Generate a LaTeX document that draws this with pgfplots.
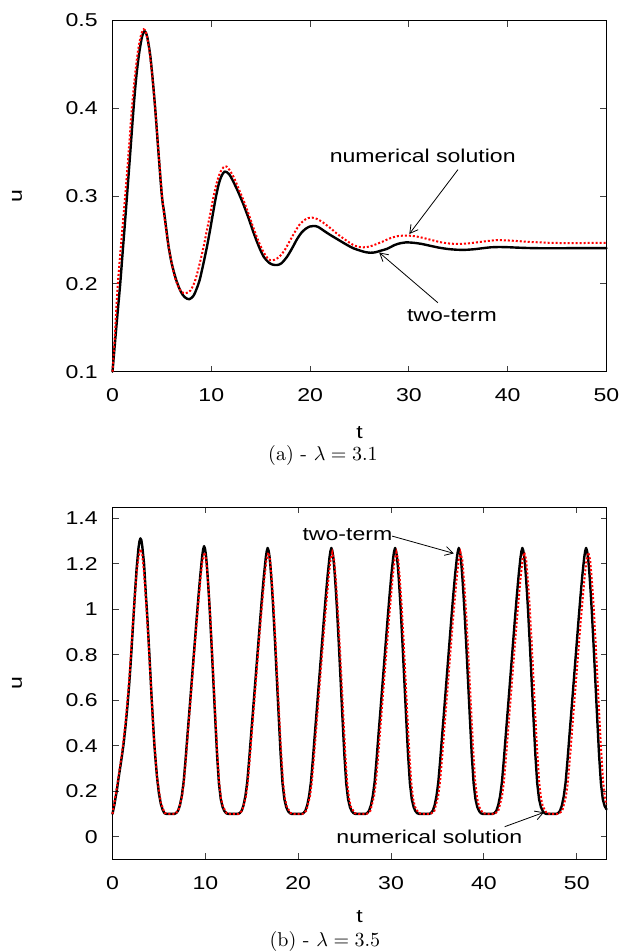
\documentclass[border=0pt]{standalone}
\usepackage{pgfplots}
\pgfplotsset{compat=1.18}
\usepackage{pgfplotstable}
\usepackage{fontspec}
\usetikzlibrary{arrows.meta}
\newfontfamily\lsans[FakeStretch=1.24]{Liberation Sans}
\newcommand\sfs{\lsans\fontsize{9.3}{11}\selectfont}

\pgfplotstableread[row sep=\\]{t u\\
0 0.100\\ 0.25 0.133\\ 0.5 0.165\\ 0.78 0.200\\ 1.0 0.232\\ 1.25 0.268\\ 1.5 0.305\\ 1.8 0.350\\ 2.13 0.400\\ 2.4 0.435\\ 2.7 0.463\\ 3.0 0.482\\ 3.24 0.488\\ 3.5 0.482\\ 3.8 0.462\\ 4.05 0.435\\ 4.32 0.400\\ 4.65 0.350\\ 5.0 0.300\\ 5.24 0.2804\\ 5.45 0.262\\ 5.68 0.2424\\ 6.0 0.223\\ 6.45 0.2044\\ 6.9 0.1915\\ 7.3 0.1850\\ 7.77 0.1825\\ 8.2 0.1865\\ 8.5 0.194\\ 8.82 0.2044\\ 9.2 0.223\\ 9.56 0.2424\\ 9.87 0.261\\ 10.17 0.2804\\ 10.45 0.298\\ 10.74 0.313\\ 11.0 0.322\\ 11.35 0.328\\ 11.8 0.325\\ 12.25 0.316\\ 12.75 0.304\\ 13.27 0.290\\ 13.8 0.274\\ 14.29 0.258\\ 14.8 0.243\\ 15.3 0.231\\ 15.8 0.2245\\ 16.2 0.222\\ 16.66 0.2215\\ 17.1 0.2235\\ 17.67 0.231\\ 18.2 0.241\\ 18.68 0.251\\ 19.1 0.258\\ 19.52 0.2625\\ 19.95 0.2653\\ 20.37 0.266\\ 20.8 0.265\\ 21.4 0.2605\\ 22.05 0.2557\\ 22.9 0.250\\ 23.75 0.2443\\ 24.4 0.2405\\ 25.1 0.2378\\ 25.6 0.2362\\ 26.1 0.2355\\ 26.6 0.236\\ 27.2 0.238\\ 27.8 0.240\\ 28.6 0.2445\\ 29.2 0.2465\\ 29.7 0.2473\\ 30.5 0.2468\\ 31.3 0.2455\\ 32.2 0.2433\\ 33.1 0.2412\\ 34.0 0.2397\\ 34.9 0.2389\\ 35.7 0.2388\\ 36.6 0.2395\\ 37.5 0.2407\\ 38.3 0.2417\\ 39.1 0.242\\ 40.0 0.2418\\ 41.0 0.2413\\ 42.0 0.2409\\ 43.5 0.2406\\ 45.0 0.2406\\ 46.5 0.2407\\ 48.0 0.2407\\ 50.0 0.2407\\
}\topblack

\pgfplotstableread[row sep=\\]{t u\\
0 0.100\\ 0.25 0.145\\ 0.54 0.200\\ 0.9 0.250\\ 1.28 0.300\\ 1.6 0.345\\ 1.96 0.400\\ 2.3 0.440\\ 2.6 0.467\\ 2.9 0.484\\ 3.15 0.490\\ 3.4 0.486\\ 3.7 0.468\\ 4.0 0.440\\ 4.3 0.402\\ 4.65 0.352\\ 5.0 0.302\\ 5.3 0.272\\ 5.6 0.248\\ 5.95 0.226\\ 6.3 0.208\\ 6.7 0.196\\ 7.0 0.191\\ 7.37 0.1893\\ 7.9 0.1925\\ 8.38 0.2044\\ 8.8 0.222\\ 9.22 0.2424\\ 9.55 0.261\\ 9.9 0.2804\\ 10.2 0.298\\ 10.5 0.313\\ 10.8 0.324\\ 11.1 0.331\\ 11.4 0.334\\ 11.7 0.332\\ 12.25 0.322\\ 12.75 0.309\\ 13.27 0.295\\ 13.8 0.279\\ 14.29 0.263\\ 14.8 0.248\\ 15.3 0.236\\ 15.65 0.230\\ 15.98 0.227\\ 16.4 0.2275\\ 16.9 0.231\\ 17.4 0.238\\ 17.9 0.248\\ 18.4 0.258\\ 18.9 0.267\\ 19.4 0.2725\\ 19.8 0.275\\ 20.2 0.2755\\ 20.7 0.274\\ 21.3 0.270\\ 22.0 0.264\\ 22.8 0.2565\\ 23.6 0.250\\ 24.3 0.2448\\ 24.9 0.2422\\ 25.43 0.2417\\ 26.0 0.2425\\ 26.6 0.2448\\ 27.3 0.248\\ 28.1 0.252\\ 28.9 0.2545\\ 29.86 0.255\\ 30.6 0.2543\\ 31.4 0.2525\\ 32.3 0.250\\ 33.2 0.2475\\ 34.1 0.246\\ 35.0 0.2455\\ 35.9 0.246\\ 36.8 0.2472\\ 37.7 0.2485\\ 38.5 0.2495\\ 39.1 0.2498\\ 40.0 0.2495\\ 41.0 0.2488\\ 42.0 0.248\\ 43.0 0.2474\\ 44.0 0.2469\\ 45.0 0.2466\\ 46.5 0.2465\\ 48.0 0.2466\\ 50.0 0.2467\\
}\topred

\pgfplotstableread[row sep=\\]{t u\\
0 0.1\\ 0.2 0.14\\ 0.45 0.2\\ 0.7 0.27\\ 1.0 0.35\\ 1.2 0.41\\ 1.4 0.485\\ 1.6 0.57\\ 1.8 0.67\\ 2.0 0.79\\ 2.2 0.925\\ 2.4 1.06\\ 2.6 1.18\\ 2.8 1.27\\ 2.9 1.298\\ 3.0 1.312\\ 3.1 1.305\\ 3.2 1.28\\ 3.4 1.2\\ 3.6 1.06\\ 3.7 1.0\\ 3.8 0.93\\ 4.0 0.78\\ 4.2 0.62\\ 4.5 0.41\\ 4.6 0.355\\ 4.8 0.26\\ 5.0 0.19\\ 5.2 0.145\\ 5.4 0.118\\ 5.6 0.103\\ 5.8 0.1\\
6.66 0.1\\ 6.86 0.104\\ 7.06 0.114\\ 7.26 0.138\\ 7.46 0.178\\ 7.66 0.24\\ 7.86 0.335\\ 8.06 0.44\\ 8.26 0.542\\ 8.46 0.646\\ 8.66 0.75\\ 8.86 0.854\\ 9.06 0.958\\ 9.26 1.058\\ 9.46 1.152\\ 9.66 1.235\\ 9.76 1.263\\ 9.86 1.278\\ 9.96 1.267\\ 10.06 1.24\\ 10.16 1.195\\ 10.26 1.138\\ 10.36 1.074\\ 10.46 1.005\\ 10.66 0.85\\ 10.86 0.685\\ 11.06 0.52\\ 11.26 0.36\\ 11.46 0.235\\ 11.66 0.165\\ 11.86 0.13\\ 12.06 0.112\\ 12.26 0.103\\ 12.46 0.1\\
13.51 0.1\\ 13.71 0.104\\ 13.91 0.114\\ 14.11 0.138\\ 14.31 0.178\\ 14.51 0.24\\ 14.71 0.335\\ 14.91 0.44\\ 15.11 0.542\\ 15.31 0.646\\ 15.51 0.75\\ 15.71 0.854\\ 15.91 0.958\\ 16.11 1.058\\ 16.31 1.15\\ 16.51 1.228\\ 16.61 1.255\\ 16.71 1.27\\ 16.81 1.258\\ 16.91 1.232\\ 17.01 1.19\\ 17.11 1.135\\ 17.21 1.072\\ 17.31 1.005\\ 17.51 0.85\\ 17.71 0.685\\ 17.91 0.52\\ 18.11 0.36\\ 18.31 0.235\\ 18.51 0.165\\ 18.71 0.13\\ 18.91 0.112\\ 19.11 0.103\\ 19.31 0.1\\
20.37 0.1\\ 20.57 0.104\\ 20.77 0.114\\ 20.97 0.138\\ 21.17 0.178\\ 21.37 0.24\\ 21.57 0.335\\ 21.77 0.44\\ 21.97 0.542\\ 22.17 0.646\\ 22.37 0.75\\ 22.57 0.854\\ 22.77 0.958\\ 22.97 1.058\\ 23.17 1.15\\ 23.37 1.228\\ 23.47 1.255\\ 23.57 1.27\\ 23.67 1.258\\ 23.77 1.232\\ 23.87 1.19\\ 23.97 1.135\\ 24.07 1.072\\ 24.17 1.005\\ 24.37 0.85\\ 24.57 0.685\\ 24.77 0.52\\ 24.97 0.36\\ 25.17 0.235\\ 25.37 0.165\\ 25.57 0.13\\ 25.77 0.112\\ 25.97 0.103\\ 26.17 0.1\\
27.23 0.1\\ 27.43 0.104\\ 27.63 0.114\\ 27.83 0.138\\ 28.03 0.178\\ 28.23 0.24\\ 28.43 0.335\\ 28.63 0.44\\ 28.83 0.542\\ 29.03 0.646\\ 29.23 0.75\\ 29.43 0.854\\ 29.63 0.958\\ 29.83 1.058\\ 30.03 1.15\\ 30.23 1.228\\ 30.33 1.255\\ 30.43 1.27\\ 30.53 1.258\\ 30.63 1.232\\ 30.73 1.19\\ 30.83 1.135\\ 30.93 1.072\\ 31.03 1.005\\ 31.23 0.85\\ 31.43 0.685\\ 31.63 0.52\\ 31.83 0.36\\ 32.03 0.235\\ 32.23 0.165\\ 32.43 0.13\\ 32.63 0.112\\ 32.83 0.103\\ 33.03 0.1\\
34.09 0.1\\ 34.29 0.104\\ 34.49 0.114\\ 34.69 0.138\\ 34.89 0.178\\ 35.09 0.24\\ 35.29 0.335\\ 35.49 0.44\\ 35.69 0.542\\ 35.89 0.646\\ 36.09 0.75\\ 36.29 0.854\\ 36.49 0.958\\ 36.69 1.058\\ 36.89 1.15\\ 37.09 1.228\\ 37.19 1.255\\ 37.29 1.27\\ 37.39 1.258\\ 37.49 1.232\\ 37.59 1.19\\ 37.69 1.135\\ 37.79 1.072\\ 37.89 1.005\\ 38.09 0.85\\ 38.29 0.685\\ 38.49 0.52\\ 38.69 0.36\\ 38.89 0.235\\ 39.09 0.165\\ 39.29 0.13\\ 39.49 0.112\\ 39.69 0.103\\ 39.89 0.1\\
40.94 0.1\\ 41.14 0.104\\ 41.34 0.114\\ 41.54 0.138\\ 41.74 0.178\\ 41.94 0.24\\ 42.14 0.335\\ 42.34 0.44\\ 42.54 0.542\\ 42.74 0.646\\ 42.94 0.75\\ 43.14 0.854\\ 43.34 0.958\\ 43.54 1.058\\ 43.74 1.15\\ 43.94 1.228\\ 44.04 1.255\\ 44.14 1.27\\ 44.24 1.258\\ 44.34 1.232\\ 44.44 1.19\\ 44.54 1.135\\ 44.64 1.072\\ 44.74 1.005\\ 44.94 0.85\\ 45.14 0.685\\ 45.34 0.52\\ 45.54 0.36\\ 45.74 0.235\\ 45.94 0.165\\ 46.14 0.13\\ 46.34 0.112\\ 46.54 0.103\\ 46.74 0.1\\
47.80 0.1\\ 48.00 0.104\\ 48.20 0.114\\ 48.40 0.138\\ 48.60 0.178\\ 48.80 0.24\\ 49.00 0.335\\ 49.20 0.44\\ 49.40 0.542\\ 49.60 0.646\\ 49.80 0.75\\ 50.00 0.854\\ 50.20 0.958\\ 50.40 1.058\\ 50.60 1.15\\ 50.80 1.228\\ 50.90 1.255\\ 51.00 1.27\\ 51.10 1.258\\ 51.20 1.232\\ 51.30 1.19\\ 51.40 1.135\\ 51.50 1.072\\ 51.60 1.005\\ 51.80 0.85\\ 52.00 0.685\\ 52.20 0.52\\ 52.40 0.36\\ 52.60 0.235\\ 52.80 0.165\\ 53.00 0.135\\ 53.20 0.12\\
}\botblack

\pgfplotstableread[row sep=\\]{t u\\
0 0.1\\ 0.2 0.15\\ 0.45 0.21\\ 0.7 0.28\\ 1.0 0.36\\ 1.4 0.5\\ 1.8 0.69\\ 2.2 0.94\\ 2.6 1.16\\ 2.8 1.23\\ 3.0 1.265\\ 3.2 1.24\\ 3.4 1.16\\ 3.7 0.98\\ 4.0 0.77\\ 4.4 0.47\\ 4.8 0.26\\ 5.2 0.15\\ 5.6 0.105\\ 6.0 0.1\\
6.69 0.1\\ 7.09 0.114\\ 7.49 0.178\\ 7.69 0.24\\ 7.89 0.335\\ 8.29 0.542\\ 8.69 0.75\\ 9.09 0.955\\ 9.49 1.14\\ 9.69 1.215\\ 9.89 1.25\\ 10.09 1.218\\ 10.29 1.12\\ 10.49 0.995\\ 10.69 0.845\\ 10.89 0.685\\ 11.09 0.52\\ 11.29 0.365\\ 11.49 0.24\\ 11.69 0.168\\ 11.89 0.132\\ 12.29 0.104\\ 12.69 0.1\\
13.57 0.1\\ 13.97 0.114\\ 14.37 0.178\\ 14.57 0.24\\ 14.77 0.335\\ 15.17 0.542\\ 15.57 0.75\\ 15.97 0.955\\ 16.37 1.14\\ 16.57 1.215\\ 16.77 1.25\\ 16.97 1.218\\ 17.17 1.12\\ 17.37 0.995\\ 17.57 0.845\\ 17.77 0.685\\ 17.97 0.52\\ 18.17 0.365\\ 18.37 0.24\\ 18.57 0.168\\ 18.77 0.132\\ 19.17 0.104\\ 19.57 0.1\\
20.47 0.1\\ 20.87 0.114\\ 21.27 0.178\\ 21.47 0.24\\ 21.67 0.335\\ 22.07 0.542\\ 22.47 0.75\\ 22.87 0.955\\ 23.27 1.14\\ 23.47 1.215\\ 23.67 1.25\\ 23.87 1.218\\ 24.07 1.12\\ 24.27 0.995\\ 24.47 0.845\\ 24.67 0.685\\ 24.87 0.52\\ 25.07 0.365\\ 25.27 0.24\\ 25.47 0.168\\ 25.67 0.132\\ 26.07 0.104\\ 26.47 0.1\\
27.37 0.1\\ 27.77 0.114\\ 28.17 0.178\\ 28.37 0.24\\ 28.57 0.335\\ 28.97 0.542\\ 29.37 0.75\\ 29.77 0.955\\ 30.17 1.14\\ 30.37 1.215\\ 30.57 1.25\\ 30.77 1.218\\ 30.97 1.12\\ 31.17 0.995\\ 31.37 0.845\\ 31.57 0.685\\ 31.77 0.52\\ 31.97 0.365\\ 32.17 0.24\\ 32.37 0.168\\ 32.57 0.132\\ 32.97 0.104\\ 33.37 0.1\\
34.27 0.1\\ 34.67 0.114\\ 35.07 0.178\\ 35.27 0.24\\ 35.47 0.335\\ 35.87 0.542\\ 36.27 0.75\\ 36.67 0.955\\ 37.07 1.14\\ 37.27 1.215\\ 37.47 1.25\\ 37.67 1.218\\ 37.87 1.12\\ 38.07 0.995\\ 38.27 0.845\\ 38.47 0.685\\ 38.67 0.52\\ 38.87 0.365\\ 39.07 0.24\\ 39.27 0.168\\ 39.47 0.132\\ 39.87 0.104\\ 40.27 0.1\\
41.15 0.1\\ 41.55 0.114\\ 41.95 0.178\\ 42.15 0.24\\ 42.35 0.335\\ 42.75 0.542\\ 43.15 0.75\\ 43.55 0.955\\ 43.95 1.14\\ 44.15 1.215\\ 44.35 1.25\\ 44.55 1.218\\ 44.75 1.12\\ 44.95 0.995\\ 45.15 0.845\\ 45.35 0.685\\ 45.55 0.52\\ 45.75 0.365\\ 45.95 0.24\\ 46.15 0.168\\ 46.35 0.132\\ 46.75 0.104\\ 47.15 0.1\\
48.04 0.1\\ 48.44 0.114\\ 48.84 0.178\\ 49.04 0.24\\ 49.24 0.335\\ 49.64 0.542\\ 50.04 0.75\\ 50.44 0.955\\ 50.84 1.14\\ 51.04 1.215\\ 51.24 1.25\\ 51.44 1.218\\ 51.64 1.12\\ 51.84 0.995\\ 52.04 0.845\\ 52.24 0.685\\ 52.44 0.52\\ 52.64 0.365\\ 52.84 0.24\\ 53.04 0.168\\ 53.2 0.14\\
}\botred

\tikzset{
  ann/.style={line width=0.4pt, -{Straight Barb[length=4pt,width=4.5pt]}},
  twoterm/.style={black, line width=1.2pt, line join=round, line cap=round},
  numsol/.style={red, line width=1.0pt, dash pattern=on 1pt off 1pt},
}
\pgfplotsset{
  myax/.style={
    scale only axis, width=247pt, clip=false,
    axis line style={line width=0.5pt},
    tick style={black!75, line width=0.5pt},
    major tick length=3pt,
    tick align=inside,
    /pgf/number format/assume math mode=true,
    tick label style={font=\sfs},
    label style={font=\sfs},
    xticklabel style={yshift=-5.1pt},
    yticklabel style={xshift=-3.9pt},
    ylabel style={at={(axis description cs:-0.193,0.5)}, anchor=center},
  },
}

\begin{document}
\begin{tikzpicture}
\useasboundingbox (0,0) rectangle (311pt,-476pt);
\begin{axis}[myax, at={(56.25pt,-185.85pt)}, anchor=south west, height=175.6pt,
  xmin=0, xmax=50, ymin=0.1, ymax=0.5,
  xtick={0,10,20,30,40,50}, ytick={0.1,0.2,0.3,0.4,0.5},
  xlabel style={at={(axis description cs:0.5,-0.172)}, anchor=center},
  xlabel={t}, ylabel={u}]
\addplot[twoterm, smooth] table[x=t,y=u] {\topblack};
\addplot[numsol, smooth] table[x=t,y=u] {\topred};
\node[font=\sfs] at (axis cs:31.4,0.3457) {numerical solution};
\draw[ann] (axis cs:34.97,0.3302) -- (axis cs:30.04,0.2568);
\node[font=\sfs] at (axis cs:34.35,0.1634) {two-term};
\draw[ann] (axis cs:32.94,0.1785) -- (axis cs:26.99,0.2358);
\node at (axis description cs:0.426,-0.238) {\fontsize{10}{12}\selectfont (a) - $\lambda = 3.1$};
\end{axis}
\begin{axis}[myax, at={(56.25pt,-429.7pt)}, anchor=south west, height=176.2pt,
  xmin=0, xmax=53.2, ymin=-0.1, ymax=1.45,
  xtick={0,10,20,30,40,50}, ytick={0,0.2,0.4,0.6,0.8,1,1.2,1.4},
  xlabel style={at={(axis description cs:0.5,-0.162)}, anchor=center},
  xlabel={t}, ylabel={u}]
\addplot[twoterm] table[x=t,y=u] {\botblack};
\addplot[numsol] table[x=t,y=u] {\botred};
\node[font=\sfs] at (axis cs:25.3,1.3266) {two-term};
\draw[ann] (axis cs:30.12,1.322) -- (axis cs:36.76,1.246);
\node[font=\sfs] at (axis cs:34.13,0.0) {numerical solution};
\draw[ann] (axis cs:42.23,0.0438) -- (axis cs:46.47,0.107);
\node at (axis description cs:0.43,-0.232) {\fontsize{10}{12}\selectfont (b) - $\lambda = 3.5$};
\end{axis}
\end{tikzpicture}
\end{document}
